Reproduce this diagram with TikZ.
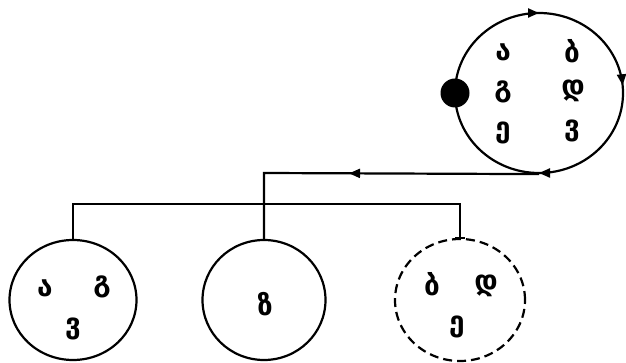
\documentclass[tikz,border=0pt]{standalone}
\usepackage{fontspec}
\newfontfamily\geo{DejaVu Sans}
\usetikzlibrary{shapes.geometric,arrows.meta,decorations.markings,calc}
\tikzset{
  setline/.style={line width=2.2pt},
  setbox/.style={ellipse, draw, setline, inner sep=0pt},
  letter/.style={font=\geo\bfseries\fontsize{28}{28}\selectfont, inner sep=0pt},
  flowmarks/.style={postaction={decorate}, decoration={markings,
      mark=at position 0.25 with {\arrow{Triangle[length=11pt,width=9pt]}},
      mark=at position 0.75 with {\arrow{Triangle[length=11pt,width=9pt]}},
      mark=at position 0.985 with {\arrow{Triangle[length=11pt,width=9pt]}}}},
  busmark/.style={postaction={decorate}, decoration={markings,
      mark=at position 190pt with {\arrow{Triangle[length=11pt,width=9pt]}}}}
}
\begin{document}
\begin{tikzpicture}[x=1pt,y=-1pt]
  \useasboundingbox (0,0) rectangle (626,363);

  % cyclic set with its marked point
  \node[setbox, minimum width=168pt, minimum height=160pt] (top) at (539,93) {};
  \path[setline, flowmarks] (539,93) ellipse [x radius=84, y radius=80];
  \node[circle, fill=black, minimum size=29pt, inner sep=0pt] (dot) at (455,93) {};
  \node[letter] (ta) at (503,52) {ა};
  \node[letter] (tb) at (572,51) {ბ};
  \node[letter] (tg) at (503,92) {გ};
  \node[letter] (td) at (573,91) {დ};
  \node[letter] (te) at (503,133) {ე};
  \node[letter] (tv) at (572,131) {ვ};

  % the three parts
  \node[setbox, minimum width=127pt, minimum height=120pt] (left) at (73,300) {};
  \node[setbox, minimum width=123pt, minimum height=120pt] (mid) at (264,300) {};
  \node[setbox, dash pattern=on 9pt off 5pt, minimum width=130pt, minimum height=122pt] (dashed) at (460,300) {};

  \node[letter] (la) at (45,288) {ა};
  \node[letter] (lg) at (102,287) {გ};
  \node[letter] (lv) at (73,329) {ვ};
  \node[letter] (mz) at (265,304) {ზ};
  \node[letter] (db) at (432,284) {ბ};
  \node[letter] (dd) at (486,286) {დ};
  \node[letter] (de) at (457,327) {ე};

  % connectors
  \coordinate (turn) at (264,173);
  \draw[setline, busmark] (top.south) -- (turn) -- (mid.north);
  \draw[setline] (left.north) -- ++(0,-35) coordinate (busl) -| (dashed.north);
  \draw[setline] ($(dashed.north)+(-5,0)$) -- ($(dashed.north)+(5,0)$);
\end{tikzpicture}
\end{document}
